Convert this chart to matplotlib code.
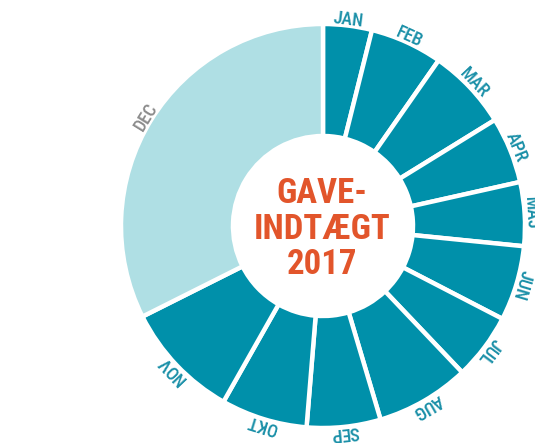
import numpy as np
import matplotlib
matplotlib.use("Agg")
import matplotlib.pyplot as plt

months = ["JAN", "FEB", "MAR", "APR", "MAJ", "JUN", "JUL", "AUG", "SEP", "OKT", "NOV", "DEC"]
shares = [3.9, 5.8, 6.5, 5.3, 5.1, 6.0, 5.3, 7.5, 5.9, 6.9, 9.4, 32.4]
title_lines = ["GAVE-", "INDTÆGT", "2017"]

teal = "#0090aa"
light = "#afdfe4"
label_teal = "#1b90a8"
label_grey = "#8c8c8c"
orange = "#e2552b"

font = ["Roboto Condensed", "PT Sans Narrow", "DejaVu Sans"]

fig = plt.figure(figsize=(5.35, 4.43), dpi=100)
ax = fig.add_axes([0, 0, 1, 1])

cx, cy = 323, 217
r_out, r_in = 202, 90

colors = [teal] * 11 + [light]
wedges, _ = ax.pie(shares, colors=colors, startangle=90, counterclock=False,
                   center=(cx, cy), radius=r_out,
                   wedgeprops=dict(width=r_out - r_in, edgecolor="white", linewidth=3.2))

# month labels along the outside of the ring
total = sum(shares)
start = 90.0
for name, s in zip(months, shares):
    span = s / total * 360
    mid = start - span / 2
    start -= span
    a = np.deg2rad(mid)
    x = cx + 210 * np.cos(a)
    y = cy + 210 * np.sin(a)
    ax.text(x, y, name, rotation=mid - 90, rotation_mode="anchor",
            ha="center", va="center_baseline", fontsize=13, family=font,
            fontweight="medium",
            color=label_grey if name == "DEC" else label_teal)

ax.text(cx - 1, cy - 3, "\n".join(title_lines), ha="center", va="center",
        fontsize=25, fontweight="bold", family=font, color=orange, linespacing=1.08)

ax.set_xlim(0, 535)
ax.set_ylim(0, 443)
ax.set_aspect("equal")
ax.axis("off")

fig.savefig("out.png", dpi=100, facecolor="white")
